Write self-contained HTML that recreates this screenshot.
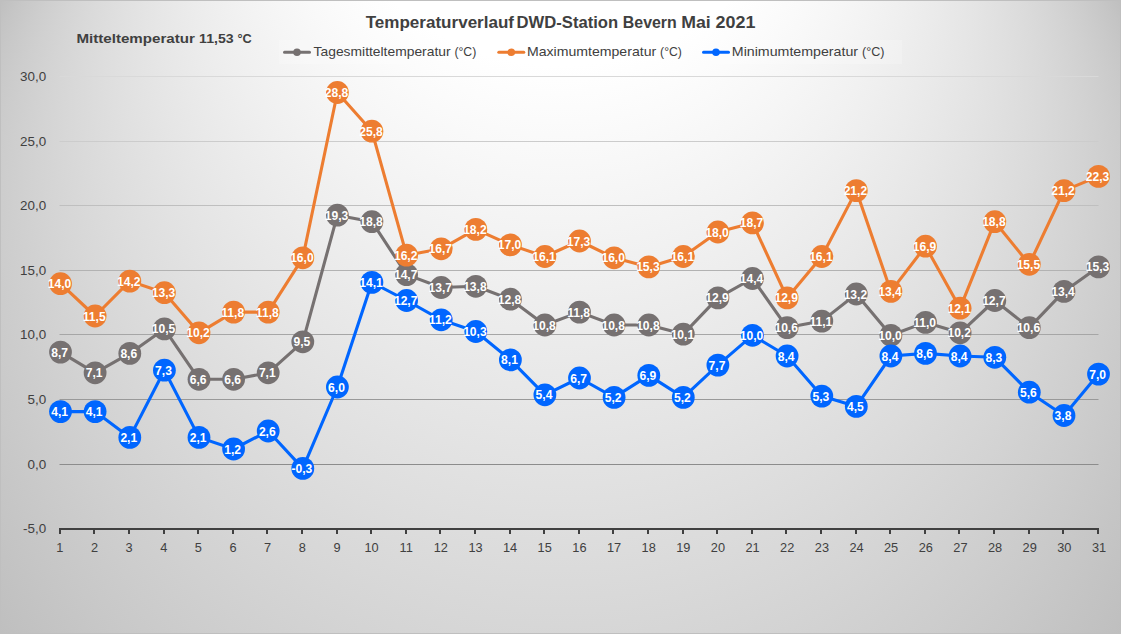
<!DOCTYPE html>
<html lang="de"><head><meta charset="utf-8"><title>Temperaturverlauf DWD-Station Bevern Mai 2021</title>
<style>html,body{margin:0;padding:0;background:#fff;}body{width:1121px;height:634px;overflow:hidden;}svg{display:block;}
text{font-family:"Liberation Sans",sans-serif;}
.ax{font-size:12.2px;fill:#404040;}
.dl{font-size:12.1px;font-weight:bold;fill:#fff;text-anchor:middle;}
.lg{font-size:13.3px;fill:#404040;}
</style></head><body>
<svg width="1121" height="634" viewBox="0 0 1121 634">
<defs>
<linearGradient id="w0" gradientUnits="userSpaceOnUse" x1="560.50" y1="-507.20" x2="399.20" y2="-612.45"><stop offset="0" stop-color="#fff"/><stop offset="0.39" stop-color="#fff"/><stop offset="1" stop-color="#bfbfbf"/></linearGradient>
<linearGradient id="w1" gradientUnits="userSpaceOnUse" x1="560.50" y1="-507.20" x2="325.61" y2="-628.74"><stop offset="0" stop-color="#fff"/><stop offset="0.39" stop-color="#fff"/><stop offset="1" stop-color="#bfbfbf"/></linearGradient>
<linearGradient id="w2" gradientUnits="userSpaceOnUse" x1="560.50" y1="-507.20" x2="254.07" y2="-632.64"><stop offset="0" stop-color="#fff"/><stop offset="0.39" stop-color="#fff"/><stop offset="1" stop-color="#bfbfbf"/></linearGradient>
<linearGradient id="w3" gradientUnits="userSpaceOnUse" x1="560.50" y1="-507.20" x2="184.00" y2="-626.28"><stop offset="0" stop-color="#fff"/><stop offset="0.39" stop-color="#fff"/><stop offset="1" stop-color="#bfbfbf"/></linearGradient>
<linearGradient id="w4" gradientUnits="userSpaceOnUse" x1="560.50" y1="-507.20" x2="115.65" y2="-610.68"><stop offset="0" stop-color="#fff"/><stop offset="0.39" stop-color="#fff"/><stop offset="1" stop-color="#bfbfbf"/></linearGradient>
<linearGradient id="w5" gradientUnits="userSpaceOnUse" x1="560.50" y1="-507.20" x2="49.56" y2="-586.52"><stop offset="0" stop-color="#fff"/><stop offset="0.39" stop-color="#fff"/><stop offset="1" stop-color="#bfbfbf"/></linearGradient>
<linearGradient id="w6" gradientUnits="userSpaceOnUse" x1="560.50" y1="-507.20" x2="-13.66" y2="-554.34"><stop offset="0" stop-color="#fff"/><stop offset="0.39" stop-color="#fff"/><stop offset="1" stop-color="#bfbfbf"/></linearGradient>
<linearGradient id="w7" gradientUnits="userSpaceOnUse" x1="560.50" y1="-507.20" x2="-73.33" y2="-514.63"><stop offset="0" stop-color="#fff"/><stop offset="0.39" stop-color="#fff"/><stop offset="1" stop-color="#bfbfbf"/></linearGradient>
<linearGradient id="w8" gradientUnits="userSpaceOnUse" x1="560.50" y1="-507.20" x2="-128.82" y2="-467.93"><stop offset="0" stop-color="#fff"/><stop offset="0.39" stop-color="#fff"/><stop offset="1" stop-color="#bfbfbf"/></linearGradient>
<linearGradient id="w9" gradientUnits="userSpaceOnUse" x1="560.50" y1="-507.20" x2="-179.48" y2="-414.76"><stop offset="0" stop-color="#fff"/><stop offset="0.39" stop-color="#fff"/><stop offset="1" stop-color="#bfbfbf"/></linearGradient>
<linearGradient id="w10" gradientUnits="userSpaceOnUse" x1="560.50" y1="-507.20" x2="-224.73" y2="-355.72"><stop offset="0" stop-color="#fff"/><stop offset="0.39" stop-color="#fff"/><stop offset="1" stop-color="#bfbfbf"/></linearGradient>
<linearGradient id="w11" gradientUnits="userSpaceOnUse" x1="560.50" y1="-507.20" x2="-264.00" y2="-291.42"><stop offset="0" stop-color="#fff"/><stop offset="0.39" stop-color="#fff"/><stop offset="1" stop-color="#bfbfbf"/></linearGradient>
<linearGradient id="w12" gradientUnits="userSpaceOnUse" x1="560.50" y1="-507.20" x2="-296.81" y2="-222.53"><stop offset="0" stop-color="#fff"/><stop offset="0.39" stop-color="#fff"/><stop offset="1" stop-color="#bfbfbf"/></linearGradient>
<linearGradient id="w13" gradientUnits="userSpaceOnUse" x1="560.50" y1="-507.20" x2="-322.72" y2="-149.75"><stop offset="0" stop-color="#fff"/><stop offset="0.39" stop-color="#fff"/><stop offset="1" stop-color="#bfbfbf"/></linearGradient>
<linearGradient id="w14" gradientUnits="userSpaceOnUse" x1="560.50" y1="-507.20" x2="-341.37" y2="-73.84"><stop offset="0" stop-color="#fff"/><stop offset="0.39" stop-color="#fff"/><stop offset="1" stop-color="#bfbfbf"/></linearGradient>
<linearGradient id="w15" gradientUnits="userSpaceOnUse" x1="560.50" y1="-507.20" x2="-352.46" y2="4.45"><stop offset="0" stop-color="#fff"/><stop offset="0.39" stop-color="#fff"/><stop offset="1" stop-color="#bfbfbf"/></linearGradient>
<linearGradient id="w16" gradientUnits="userSpaceOnUse" x1="560.50" y1="-507.20" x2="-355.79" y2="84.32"><stop offset="0" stop-color="#fff"/><stop offset="0.39" stop-color="#fff"/><stop offset="1" stop-color="#bfbfbf"/></linearGradient>
<linearGradient id="w17" gradientUnits="userSpaceOnUse" x1="560.50" y1="-507.20" x2="-351.22" y2="164.97"><stop offset="0" stop-color="#fff"/><stop offset="0.39" stop-color="#fff"/><stop offset="1" stop-color="#bfbfbf"/></linearGradient>
<linearGradient id="w18" gradientUnits="userSpaceOnUse" x1="560.50" y1="-507.20" x2="-338.70" y2="245.56"><stop offset="0" stop-color="#fff"/><stop offset="0.39" stop-color="#fff"/><stop offset="1" stop-color="#bfbfbf"/></linearGradient>
<linearGradient id="w19" gradientUnits="userSpaceOnUse" x1="560.50" y1="-507.20" x2="-318.24" y2="325.29"><stop offset="0" stop-color="#fff"/><stop offset="0.39" stop-color="#fff"/><stop offset="1" stop-color="#bfbfbf"/></linearGradient>
<linearGradient id="w20" gradientUnits="userSpaceOnUse" x1="560.50" y1="-507.20" x2="-289.98" y2="403.35"><stop offset="0" stop-color="#fff"/><stop offset="0.39" stop-color="#fff"/><stop offset="1" stop-color="#bfbfbf"/></linearGradient>
<linearGradient id="w21" gradientUnits="userSpaceOnUse" x1="560.50" y1="-507.20" x2="-254.09" y2="478.95"><stop offset="0" stop-color="#fff"/><stop offset="0.39" stop-color="#fff"/><stop offset="1" stop-color="#bfbfbf"/></linearGradient>
<linearGradient id="w22" gradientUnits="userSpaceOnUse" x1="560.50" y1="-507.20" x2="-210.85" y2="551.31"><stop offset="0" stop-color="#fff"/><stop offset="0.39" stop-color="#fff"/><stop offset="1" stop-color="#bfbfbf"/></linearGradient>
<linearGradient id="w23" gradientUnits="userSpaceOnUse" x1="560.50" y1="-507.20" x2="-160.61" y2="619.69"><stop offset="0" stop-color="#fff"/><stop offset="0.39" stop-color="#fff"/><stop offset="1" stop-color="#bfbfbf"/></linearGradient>
<linearGradient id="w24" gradientUnits="userSpaceOnUse" x1="560.50" y1="-507.20" x2="-103.80" y2="683.40"><stop offset="0" stop-color="#fff"/><stop offset="0.39" stop-color="#fff"/><stop offset="1" stop-color="#bfbfbf"/></linearGradient>
<linearGradient id="w25" gradientUnits="userSpaceOnUse" x1="560.50" y1="-507.20" x2="-40.89" y2="741.80"><stop offset="0" stop-color="#fff"/><stop offset="0.39" stop-color="#fff"/><stop offset="1" stop-color="#bfbfbf"/></linearGradient>
<linearGradient id="w26" gradientUnits="userSpaceOnUse" x1="560.50" y1="-507.20" x2="27.54" y2="794.27"><stop offset="0" stop-color="#fff"/><stop offset="0.39" stop-color="#fff"/><stop offset="1" stop-color="#bfbfbf"/></linearGradient>
<linearGradient id="w27" gradientUnits="userSpaceOnUse" x1="560.50" y1="-507.20" x2="100.89" y2="840.29"><stop offset="0" stop-color="#fff"/><stop offset="0.39" stop-color="#fff"/><stop offset="1" stop-color="#bfbfbf"/></linearGradient>
<linearGradient id="w28" gradientUnits="userSpaceOnUse" x1="560.50" y1="-507.20" x2="178.49" y2="879.38"><stop offset="0" stop-color="#fff"/><stop offset="0.39" stop-color="#fff"/><stop offset="1" stop-color="#bfbfbf"/></linearGradient>
<linearGradient id="w29" gradientUnits="userSpaceOnUse" x1="560.50" y1="-507.20" x2="259.64" y2="911.15"><stop offset="0" stop-color="#fff"/><stop offset="0.39" stop-color="#fff"/><stop offset="1" stop-color="#bfbfbf"/></linearGradient>
<linearGradient id="w30" gradientUnits="userSpaceOnUse" x1="560.50" y1="-507.20" x2="343.58" y2="935.26"><stop offset="0" stop-color="#fff"/><stop offset="0.39" stop-color="#fff"/><stop offset="1" stop-color="#bfbfbf"/></linearGradient>
<linearGradient id="w31" gradientUnits="userSpaceOnUse" x1="560.50" y1="-507.20" x2="429.53" y2="951.48"><stop offset="0" stop-color="#fff"/><stop offset="0.39" stop-color="#fff"/><stop offset="1" stop-color="#bfbfbf"/></linearGradient>
<linearGradient id="w32" gradientUnits="userSpaceOnUse" x1="560.50" y1="-507.20" x2="516.71" y2="959.63"><stop offset="0" stop-color="#fff"/><stop offset="0.39" stop-color="#fff"/><stop offset="1" stop-color="#bfbfbf"/></linearGradient>
<linearGradient id="w33" gradientUnits="userSpaceOnUse" x1="560.50" y1="-507.20" x2="604.29" y2="959.63"><stop offset="0" stop-color="#fff"/><stop offset="0.39" stop-color="#fff"/><stop offset="1" stop-color="#bfbfbf"/></linearGradient>
<linearGradient id="w34" gradientUnits="userSpaceOnUse" x1="560.50" y1="-507.20" x2="691.47" y2="951.48"><stop offset="0" stop-color="#fff"/><stop offset="0.39" stop-color="#fff"/><stop offset="1" stop-color="#bfbfbf"/></linearGradient>
<linearGradient id="w35" gradientUnits="userSpaceOnUse" x1="560.50" y1="-507.20" x2="777.42" y2="935.26"><stop offset="0" stop-color="#fff"/><stop offset="0.39" stop-color="#fff"/><stop offset="1" stop-color="#bfbfbf"/></linearGradient>
<linearGradient id="w36" gradientUnits="userSpaceOnUse" x1="560.50" y1="-507.20" x2="861.36" y2="911.15"><stop offset="0" stop-color="#fff"/><stop offset="0.39" stop-color="#fff"/><stop offset="1" stop-color="#bfbfbf"/></linearGradient>
<linearGradient id="w37" gradientUnits="userSpaceOnUse" x1="560.50" y1="-507.20" x2="942.51" y2="879.38"><stop offset="0" stop-color="#fff"/><stop offset="0.39" stop-color="#fff"/><stop offset="1" stop-color="#bfbfbf"/></linearGradient>
<linearGradient id="w38" gradientUnits="userSpaceOnUse" x1="560.50" y1="-507.20" x2="1020.11" y2="840.29"><stop offset="0" stop-color="#fff"/><stop offset="0.39" stop-color="#fff"/><stop offset="1" stop-color="#bfbfbf"/></linearGradient>
<linearGradient id="w39" gradientUnits="userSpaceOnUse" x1="560.50" y1="-507.20" x2="1093.46" y2="794.27"><stop offset="0" stop-color="#fff"/><stop offset="0.39" stop-color="#fff"/><stop offset="1" stop-color="#bfbfbf"/></linearGradient>
<linearGradient id="w40" gradientUnits="userSpaceOnUse" x1="560.50" y1="-507.20" x2="1161.89" y2="741.80"><stop offset="0" stop-color="#fff"/><stop offset="0.39" stop-color="#fff"/><stop offset="1" stop-color="#bfbfbf"/></linearGradient>
<linearGradient id="w41" gradientUnits="userSpaceOnUse" x1="560.50" y1="-507.20" x2="1224.80" y2="683.40"><stop offset="0" stop-color="#fff"/><stop offset="0.39" stop-color="#fff"/><stop offset="1" stop-color="#bfbfbf"/></linearGradient>
<linearGradient id="w42" gradientUnits="userSpaceOnUse" x1="560.50" y1="-507.20" x2="1281.61" y2="619.69"><stop offset="0" stop-color="#fff"/><stop offset="0.39" stop-color="#fff"/><stop offset="1" stop-color="#bfbfbf"/></linearGradient>
<linearGradient id="w43" gradientUnits="userSpaceOnUse" x1="560.50" y1="-507.20" x2="1331.85" y2="551.31"><stop offset="0" stop-color="#fff"/><stop offset="0.39" stop-color="#fff"/><stop offset="1" stop-color="#bfbfbf"/></linearGradient>
<linearGradient id="w44" gradientUnits="userSpaceOnUse" x1="560.50" y1="-507.20" x2="1375.09" y2="478.95"><stop offset="0" stop-color="#fff"/><stop offset="0.39" stop-color="#fff"/><stop offset="1" stop-color="#bfbfbf"/></linearGradient>
<linearGradient id="w45" gradientUnits="userSpaceOnUse" x1="560.50" y1="-507.20" x2="1410.98" y2="403.35"><stop offset="0" stop-color="#fff"/><stop offset="0.39" stop-color="#fff"/><stop offset="1" stop-color="#bfbfbf"/></linearGradient>
<linearGradient id="w46" gradientUnits="userSpaceOnUse" x1="560.50" y1="-507.20" x2="1439.24" y2="325.29"><stop offset="0" stop-color="#fff"/><stop offset="0.39" stop-color="#fff"/><stop offset="1" stop-color="#bfbfbf"/></linearGradient>
<linearGradient id="w47" gradientUnits="userSpaceOnUse" x1="560.50" y1="-507.20" x2="1459.70" y2="245.56"><stop offset="0" stop-color="#fff"/><stop offset="0.39" stop-color="#fff"/><stop offset="1" stop-color="#bfbfbf"/></linearGradient>
<linearGradient id="w48" gradientUnits="userSpaceOnUse" x1="560.50" y1="-507.20" x2="1472.22" y2="164.97"><stop offset="0" stop-color="#fff"/><stop offset="0.39" stop-color="#fff"/><stop offset="1" stop-color="#bfbfbf"/></linearGradient>
<linearGradient id="w49" gradientUnits="userSpaceOnUse" x1="560.50" y1="-507.20" x2="1476.79" y2="84.32"><stop offset="0" stop-color="#fff"/><stop offset="0.39" stop-color="#fff"/><stop offset="1" stop-color="#bfbfbf"/></linearGradient>
<linearGradient id="w50" gradientUnits="userSpaceOnUse" x1="560.50" y1="-507.20" x2="1473.46" y2="4.45"><stop offset="0" stop-color="#fff"/><stop offset="0.39" stop-color="#fff"/><stop offset="1" stop-color="#bfbfbf"/></linearGradient>
<linearGradient id="w51" gradientUnits="userSpaceOnUse" x1="560.50" y1="-507.20" x2="1462.37" y2="-73.84"><stop offset="0" stop-color="#fff"/><stop offset="0.39" stop-color="#fff"/><stop offset="1" stop-color="#bfbfbf"/></linearGradient>
<linearGradient id="w52" gradientUnits="userSpaceOnUse" x1="560.50" y1="-507.20" x2="1443.72" y2="-149.75"><stop offset="0" stop-color="#fff"/><stop offset="0.39" stop-color="#fff"/><stop offset="1" stop-color="#bfbfbf"/></linearGradient>
<linearGradient id="w53" gradientUnits="userSpaceOnUse" x1="560.50" y1="-507.20" x2="1417.81" y2="-222.53"><stop offset="0" stop-color="#fff"/><stop offset="0.39" stop-color="#fff"/><stop offset="1" stop-color="#bfbfbf"/></linearGradient>
<linearGradient id="w54" gradientUnits="userSpaceOnUse" x1="560.50" y1="-507.20" x2="1385.00" y2="-291.42"><stop offset="0" stop-color="#fff"/><stop offset="0.39" stop-color="#fff"/><stop offset="1" stop-color="#bfbfbf"/></linearGradient>
<linearGradient id="w55" gradientUnits="userSpaceOnUse" x1="560.50" y1="-507.20" x2="1345.73" y2="-355.72"><stop offset="0" stop-color="#fff"/><stop offset="0.39" stop-color="#fff"/><stop offset="1" stop-color="#bfbfbf"/></linearGradient>
<linearGradient id="w56" gradientUnits="userSpaceOnUse" x1="560.50" y1="-507.20" x2="1300.48" y2="-414.76"><stop offset="0" stop-color="#fff"/><stop offset="0.39" stop-color="#fff"/><stop offset="1" stop-color="#bfbfbf"/></linearGradient>
<linearGradient id="w57" gradientUnits="userSpaceOnUse" x1="560.50" y1="-507.20" x2="1249.82" y2="-467.93"><stop offset="0" stop-color="#fff"/><stop offset="0.39" stop-color="#fff"/><stop offset="1" stop-color="#bfbfbf"/></linearGradient>
<linearGradient id="w58" gradientUnits="userSpaceOnUse" x1="560.50" y1="-507.20" x2="1194.33" y2="-514.63"><stop offset="0" stop-color="#fff"/><stop offset="0.39" stop-color="#fff"/><stop offset="1" stop-color="#bfbfbf"/></linearGradient>
<linearGradient id="w59" gradientUnits="userSpaceOnUse" x1="560.50" y1="-507.20" x2="1134.66" y2="-554.34"><stop offset="0" stop-color="#fff"/><stop offset="0.39" stop-color="#fff"/><stop offset="1" stop-color="#bfbfbf"/></linearGradient>
<linearGradient id="w60" gradientUnits="userSpaceOnUse" x1="560.50" y1="-507.20" x2="1071.44" y2="-586.52"><stop offset="0" stop-color="#fff"/><stop offset="0.39" stop-color="#fff"/><stop offset="1" stop-color="#bfbfbf"/></linearGradient>
<linearGradient id="w61" gradientUnits="userSpaceOnUse" x1="560.50" y1="-507.20" x2="1005.35" y2="-610.68"><stop offset="0" stop-color="#fff"/><stop offset="0.39" stop-color="#fff"/><stop offset="1" stop-color="#bfbfbf"/></linearGradient>
<linearGradient id="w62" gradientUnits="userSpaceOnUse" x1="560.50" y1="-507.20" x2="937.00" y2="-626.28"><stop offset="0" stop-color="#fff"/><stop offset="0.39" stop-color="#fff"/><stop offset="1" stop-color="#bfbfbf"/></linearGradient>
<linearGradient id="w63" gradientUnits="userSpaceOnUse" x1="560.50" y1="-507.20" x2="866.93" y2="-632.64"><stop offset="0" stop-color="#fff"/><stop offset="0.39" stop-color="#fff"/><stop offset="1" stop-color="#bfbfbf"/></linearGradient>
<linearGradient id="w64" gradientUnits="userSpaceOnUse" x1="560.50" y1="-507.20" x2="795.39" y2="-628.74"><stop offset="0" stop-color="#fff"/><stop offset="0.39" stop-color="#fff"/><stop offset="1" stop-color="#bfbfbf"/></linearGradient>
<linearGradient id="w65" gradientUnits="userSpaceOnUse" x1="560.50" y1="-507.20" x2="721.80" y2="-612.45"><stop offset="0" stop-color="#fff"/><stop offset="0.39" stop-color="#fff"/><stop offset="1" stop-color="#bfbfbf"/></linearGradient>
<clipPath id="cp"><rect x="0" y="0" width="1121" height="634"/></clipPath>
</defs>
<rect x="0" y="0" width="1121" height="634" fill="#d8d8d8"/>
<g clip-path="url(#cp)">
<polygon points="560.5,-507.2 -270.6,202.7 -333.6,299.5" fill="url(#w0)"/>
<polygon points="560.5,-507.2 -329.5,292.5 -377.1,384.4" fill="url(#w1)"/>
<polygon points="560.5,-507.2 -374.1,377.8 -409.8,465.2" fill="url(#w2)"/>
<polygon points="560.5,-507.2 -407.5,458.8 -434.3,543.3" fill="url(#w3)"/>
<polygon points="560.5,-507.2 -432.6,537.1 -451.7,619.3" fill="url(#w4)"/>
<polygon points="560.5,-507.2 -450.5,613.3 -463.0,693.8" fill="url(#w5)"/>
<polygon points="560.5,-507.2 -462.3,687.9 -468.8,766.6" fill="url(#w6)"/>
<polygon points="560.5,-507.2 -468.5,760.8 -469.5,838.0" fill="url(#w7)"/>
<polygon points="560.5,-507.2 -469.6,832.3 -465.3,907.8" fill="url(#w8)"/>
<polygon points="560.5,-507.2 -465.8,902.3 -456.6,976.0" fill="url(#w9)"/>
<polygon points="560.5,-507.2 -457.4,970.6 -443.6,1042.5" fill="url(#w10)"/>
<polygon points="560.5,-507.2 -444.8,1037.2 -426.5,1107.2" fill="url(#w11)"/>
<polygon points="560.5,-507.2 -428.0,1102.1 -405.4,1169.9" fill="url(#w12)"/>
<polygon points="560.5,-507.2 -407.3,1165.0 -380.7,1230.6" fill="url(#w13)"/>
<polygon points="560.5,-507.2 -382.8,1225.8 -352.4,1289.1" fill="url(#w14)"/>
<polygon points="560.5,-507.2 -354.8,1284.5 -320.7,1345.3" fill="url(#w15)"/>
<polygon points="560.5,-507.2 -323.4,1340.9 -285.8,1399.1" fill="url(#w16)"/>
<polygon points="560.5,-507.2 -288.7,1394.9 -247.9,1450.3" fill="url(#w17)"/>
<polygon points="560.5,-507.2 -251.0,1446.3 -207.1,1498.8" fill="url(#w18)"/>
<polygon points="560.5,-507.2 -210.5,1495.0 -163.6,1544.4" fill="url(#w19)"/>
<polygon points="560.5,-507.2 -167.2,1540.9 -117.6,1587.2" fill="url(#w20)"/>
<polygon points="560.5,-507.2 -121.4,1583.9 -69.2,1627.0" fill="url(#w21)"/>
<polygon points="560.5,-507.2 -73.2,1623.9 -18.7,1663.6" fill="url(#w22)"/>
<polygon points="560.5,-507.2 -22.8,1660.8 33.8,1697.0" fill="url(#w23)"/>
<polygon points="560.5,-507.2 29.5,1694.4 88.0,1727.1" fill="url(#w24)"/>
<polygon points="560.5,-507.2 83.6,1724.8 143.9,1753.8" fill="url(#w25)"/>
<polygon points="560.5,-507.2 139.4,1751.8 201.2,1777.1" fill="url(#w26)"/>
<polygon points="560.5,-507.2 196.5,1775.4 259.6,1796.9" fill="url(#w27)"/>
<polygon points="560.5,-507.2 254.9,1795.4 319.1,1813.1" fill="url(#w28)"/>
<polygon points="560.5,-507.2 314.3,1812.0 379.3,1825.8" fill="url(#w29)"/>
<polygon points="560.5,-507.2 374.5,1824.9 440.2,1834.8" fill="url(#w30)"/>
<polygon points="560.5,-507.2 435.3,1834.2 501.5,1840.1" fill="url(#w31)"/>
<polygon points="560.5,-507.2 496.6,1839.8 563.0,1841.8" fill="url(#w32)"/>
<polygon points="560.5,-507.2 558.0,1841.8 624.4,1839.8" fill="url(#w33)"/>
<polygon points="560.5,-507.2 619.5,1840.1 685.7,1834.2" fill="url(#w34)"/>
<polygon points="560.5,-507.2 680.8,1834.8 746.5,1824.9" fill="url(#w35)"/>
<polygon points="560.5,-507.2 741.7,1825.8 806.7,1812.0" fill="url(#w36)"/>
<polygon points="560.5,-507.2 801.9,1813.1 866.1,1795.4" fill="url(#w37)"/>
<polygon points="560.5,-507.2 861.4,1796.9 924.5,1775.4" fill="url(#w38)"/>
<polygon points="560.5,-507.2 919.8,1777.1 981.6,1751.8" fill="url(#w39)"/>
<polygon points="560.5,-507.2 977.1,1753.8 1037.4,1724.8" fill="url(#w40)"/>
<polygon points="560.5,-507.2 1033.0,1727.1 1091.5,1694.4" fill="url(#w41)"/>
<polygon points="560.5,-507.2 1087.2,1697.0 1143.8,1660.8" fill="url(#w42)"/>
<polygon points="560.5,-507.2 1139.7,1663.6 1194.2,1623.9" fill="url(#w43)"/>
<polygon points="560.5,-507.2 1190.2,1627.0 1242.4,1583.9" fill="url(#w44)"/>
<polygon points="560.5,-507.2 1238.6,1587.2 1288.2,1540.9" fill="url(#w45)"/>
<polygon points="560.5,-507.2 1284.6,1544.4 1331.5,1495.0" fill="url(#w46)"/>
<polygon points="560.5,-507.2 1328.1,1498.8 1372.0,1446.3" fill="url(#w47)"/>
<polygon points="560.5,-507.2 1368.9,1450.3 1409.7,1394.9" fill="url(#w48)"/>
<polygon points="560.5,-507.2 1406.8,1399.1 1444.4,1340.9" fill="url(#w49)"/>
<polygon points="560.5,-507.2 1441.7,1345.3 1475.8,1284.5" fill="url(#w50)"/>
<polygon points="560.5,-507.2 1473.4,1289.1 1503.8,1225.8" fill="url(#w51)"/>
<polygon points="560.5,-507.2 1501.7,1230.6 1528.3,1165.0" fill="url(#w52)"/>
<polygon points="560.5,-507.2 1526.4,1169.9 1549.0,1102.1" fill="url(#w53)"/>
<polygon points="560.5,-507.2 1547.5,1107.2 1565.8,1037.2" fill="url(#w54)"/>
<polygon points="560.5,-507.2 1564.6,1042.5 1578.4,970.6" fill="url(#w55)"/>
<polygon points="560.5,-507.2 1577.6,976.0 1586.8,902.3" fill="url(#w56)"/>
<polygon points="560.5,-507.2 1586.3,907.8 1590.6,832.3" fill="url(#w57)"/>
<polygon points="560.5,-507.2 1590.5,838.0 1589.5,760.8" fill="url(#w58)"/>
<polygon points="560.5,-507.2 1589.8,766.6 1583.3,687.9" fill="url(#w59)"/>
<polygon points="560.5,-507.2 1584.0,693.8 1571.5,613.3" fill="url(#w60)"/>
<polygon points="560.5,-507.2 1572.7,619.3 1553.6,537.1" fill="url(#w61)"/>
<polygon points="560.5,-507.2 1555.3,543.3 1528.5,458.8" fill="url(#w62)"/>
<polygon points="560.5,-507.2 1530.8,465.2 1495.1,377.8" fill="url(#w63)"/>
<polygon points="560.5,-507.2 1498.1,384.4 1450.5,292.5" fill="url(#w64)"/>
<polygon points="560.5,-507.2 1454.6,299.5 1391.6,202.7" fill="url(#w65)"/>
</g>
<rect x="0.5" y="0.5" width="1120" height="633" fill="none" stroke="#bfbfbf" stroke-width="1"/>
<rect x="279" y="40" width="623" height="24" fill="#ffffff" fill-opacity="0.22"/>
<line x1="59.5" y1="76.5" x2="1098.5" y2="76.5" stroke="rgb(217,217,217)" stroke-width="1"/>
<line x1="59.5" y1="141.5" x2="1098.5" y2="141.5" stroke="rgb(204,204,204)" stroke-width="1"/>
<line x1="59.5" y1="205.5" x2="1098.5" y2="205.5" stroke="rgb(191,191,191)" stroke-width="1"/>
<line x1="59.5" y1="270.5" x2="1098.5" y2="270.5" stroke="rgb(178,178,178)" stroke-width="1"/>
<line x1="59.5" y1="334.5" x2="1098.5" y2="334.5" stroke="rgb(166,166,166)" stroke-width="1"/>
<line x1="59.5" y1="399.5" x2="1098.5" y2="399.5" stroke="rgb(153,153,153)" stroke-width="1"/>
<line x1="59.5" y1="464.5" x2="1098.5" y2="464.5" stroke="rgb(140,140,140)" stroke-width="1"/>
<line x1="59" y1="529" x2="1099" y2="529" stroke="#404040" stroke-width="2"/>
<line x1="60" y1="528" x2="60" y2="534" stroke="#404040" stroke-width="2"/>
<line x1="94" y1="528" x2="94" y2="534" stroke="#404040" stroke-width="2"/>
<line x1="129" y1="528" x2="129" y2="534" stroke="#404040" stroke-width="2"/>
<line x1="164" y1="528" x2="164" y2="534" stroke="#404040" stroke-width="2"/>
<line x1="198" y1="528" x2="198" y2="534" stroke="#404040" stroke-width="2"/>
<line x1="233" y1="528" x2="233" y2="534" stroke="#404040" stroke-width="2"/>
<line x1="267" y1="528" x2="267" y2="534" stroke="#404040" stroke-width="2"/>
<line x1="302" y1="528" x2="302" y2="534" stroke="#404040" stroke-width="2"/>
<line x1="337" y1="528" x2="337" y2="534" stroke="#404040" stroke-width="2"/>
<line x1="371" y1="528" x2="371" y2="534" stroke="#404040" stroke-width="2"/>
<line x1="406" y1="528" x2="406" y2="534" stroke="#404040" stroke-width="2"/>
<line x1="440" y1="528" x2="440" y2="534" stroke="#404040" stroke-width="2"/>
<line x1="475" y1="528" x2="475" y2="534" stroke="#404040" stroke-width="2"/>
<line x1="510" y1="528" x2="510" y2="534" stroke="#404040" stroke-width="2"/>
<line x1="544" y1="528" x2="544" y2="534" stroke="#404040" stroke-width="2"/>
<line x1="579" y1="528" x2="579" y2="534" stroke="#404040" stroke-width="2"/>
<line x1="613" y1="528" x2="613" y2="534" stroke="#404040" stroke-width="2"/>
<line x1="648" y1="528" x2="648" y2="534" stroke="#404040" stroke-width="2"/>
<line x1="683" y1="528" x2="683" y2="534" stroke="#404040" stroke-width="2"/>
<line x1="717" y1="528" x2="717" y2="534" stroke="#404040" stroke-width="2"/>
<line x1="752" y1="528" x2="752" y2="534" stroke="#404040" stroke-width="2"/>
<line x1="786" y1="528" x2="786" y2="534" stroke="#404040" stroke-width="2"/>
<line x1="821" y1="528" x2="821" y2="534" stroke="#404040" stroke-width="2"/>
<line x1="856" y1="528" x2="856" y2="534" stroke="#404040" stroke-width="2"/>
<line x1="890" y1="528" x2="890" y2="534" stroke="#404040" stroke-width="2"/>
<line x1="925" y1="528" x2="925" y2="534" stroke="#404040" stroke-width="2"/>
<line x1="959" y1="528" x2="959" y2="534" stroke="#404040" stroke-width="2"/>
<line x1="994" y1="528" x2="994" y2="534" stroke="#404040" stroke-width="2"/>
<line x1="1029" y1="528" x2="1029" y2="534" stroke="#404040" stroke-width="2"/>
<line x1="1063" y1="528" x2="1063" y2="534" stroke="#404040" stroke-width="2"/>
<line x1="1098" y1="528" x2="1098" y2="534" stroke="#404040" stroke-width="2"/>
<text class="ax" x="56.2" y="552" textLength="7.1" lengthAdjust="spacingAndGlyphs">1</text>
<text class="ax" x="90.9" y="552" textLength="7.1" lengthAdjust="spacingAndGlyphs">2</text>
<text class="ax" x="125.5" y="552" textLength="7.1" lengthAdjust="spacingAndGlyphs">3</text>
<text class="ax" x="160.2" y="552" textLength="7.1" lengthAdjust="spacingAndGlyphs">4</text>
<text class="ax" x="194.8" y="552" textLength="7.1" lengthAdjust="spacingAndGlyphs">5</text>
<text class="ax" x="229.4" y="552" textLength="7.1" lengthAdjust="spacingAndGlyphs">6</text>
<text class="ax" x="264.1" y="552" textLength="7.1" lengthAdjust="spacingAndGlyphs">7</text>
<text class="ax" x="298.7" y="552" textLength="7.1" lengthAdjust="spacingAndGlyphs">8</text>
<text class="ax" x="333.4" y="552" textLength="7.1" lengthAdjust="spacingAndGlyphs">9</text>
<text class="ax" x="364.4" y="552" textLength="14.2" lengthAdjust="spacingAndGlyphs">10</text>
<text class="ax" x="399.6" y="552" textLength="13.3" lengthAdjust="spacingAndGlyphs">11</text>
<text class="ax" x="433.7" y="552" textLength="14.2" lengthAdjust="spacingAndGlyphs">12</text>
<text class="ax" x="468.4" y="552" textLength="14.2" lengthAdjust="spacingAndGlyphs">13</text>
<text class="ax" x="503.0" y="552" textLength="14.2" lengthAdjust="spacingAndGlyphs">14</text>
<text class="ax" x="537.6" y="552" textLength="14.2" lengthAdjust="spacingAndGlyphs">15</text>
<text class="ax" x="572.3" y="552" textLength="14.2" lengthAdjust="spacingAndGlyphs">16</text>
<text class="ax" x="606.9" y="552" textLength="14.2" lengthAdjust="spacingAndGlyphs">17</text>
<text class="ax" x="641.6" y="552" textLength="14.2" lengthAdjust="spacingAndGlyphs">18</text>
<text class="ax" x="676.2" y="552" textLength="14.2" lengthAdjust="spacingAndGlyphs">19</text>
<text class="ax" x="710.8" y="552" textLength="14.2" lengthAdjust="spacingAndGlyphs">20</text>
<text class="ax" x="745.5" y="552" textLength="14.2" lengthAdjust="spacingAndGlyphs">21</text>
<text class="ax" x="780.1" y="552" textLength="14.2" lengthAdjust="spacingAndGlyphs">22</text>
<text class="ax" x="814.8" y="552" textLength="14.2" lengthAdjust="spacingAndGlyphs">23</text>
<text class="ax" x="849.4" y="552" textLength="14.2" lengthAdjust="spacingAndGlyphs">24</text>
<text class="ax" x="884.0" y="552" textLength="14.2" lengthAdjust="spacingAndGlyphs">25</text>
<text class="ax" x="918.7" y="552" textLength="14.2" lengthAdjust="spacingAndGlyphs">26</text>
<text class="ax" x="953.3" y="552" textLength="14.2" lengthAdjust="spacingAndGlyphs">27</text>
<text class="ax" x="988.0" y="552" textLength="14.2" lengthAdjust="spacingAndGlyphs">28</text>
<text class="ax" x="1022.6" y="552" textLength="14.2" lengthAdjust="spacingAndGlyphs">29</text>
<text class="ax" x="1057.2" y="552" textLength="14.2" lengthAdjust="spacingAndGlyphs">30</text>
<text class="ax" x="1091.9" y="552" textLength="14.2" lengthAdjust="spacingAndGlyphs">31</text>
<text class="ax" x="20.1" y="81.1" textLength="26.1" lengthAdjust="spacingAndGlyphs">30,0</text>
<text class="ax" x="20.1" y="146.1" textLength="26.1" lengthAdjust="spacingAndGlyphs">25,0</text>
<text class="ax" x="20.1" y="210.1" textLength="26.1" lengthAdjust="spacingAndGlyphs">20,0</text>
<text class="ax" x="20.1" y="275.1" textLength="26.1" lengthAdjust="spacingAndGlyphs">15,0</text>
<text class="ax" x="20.1" y="339.1" textLength="26.1" lengthAdjust="spacingAndGlyphs">10,0</text>
<text class="ax" x="27.5" y="404.1" textLength="18.7" lengthAdjust="spacingAndGlyphs">5,0</text>
<text class="ax" x="27.5" y="469.1" textLength="18.7" lengthAdjust="spacingAndGlyphs">0,0</text>
<text class="ax" x="23.1" y="533.1" textLength="23.1" lengthAdjust="spacingAndGlyphs">-5,0</text>
<polyline points="60.5,352.1 95.1,372.8 129.8,353.4 164.4,328.9 199.0,379.3 233.6,379.3 268.2,372.8 302.8,341.8 337.4,215.2 371.9,221.7 406.6,274.6 441.2,287.5 475.8,286.3 510.4,299.2 544.9,325.0 579.5,312.1 614.1,325.0 648.8,325.0 683.3,334.1 717.9,297.9 752.5,278.5 787.1,327.6 821.8,321.1 856.3,294.0 890.9,335.3 925.5,322.4 960.1,332.8 994.8,300.5 1029.3,327.6 1064.0,291.4 1098.5,266.9" fill="none" stroke="#767171" stroke-width="3.1" stroke-linejoin="round" stroke-linecap="round"/>
<circle cx="60.5" cy="352.1" r="11.4" fill="#767171"/>
<circle cx="95.1" cy="372.8" r="11.4" fill="#767171"/>
<circle cx="129.8" cy="353.4" r="11.4" fill="#767171"/>
<circle cx="164.4" cy="328.9" r="11.4" fill="#767171"/>
<circle cx="199.0" cy="379.3" r="11.4" fill="#767171"/>
<circle cx="233.6" cy="379.3" r="11.4" fill="#767171"/>
<circle cx="268.2" cy="372.8" r="11.4" fill="#767171"/>
<circle cx="302.8" cy="341.8" r="11.4" fill="#767171"/>
<circle cx="337.4" cy="215.2" r="11.4" fill="#767171"/>
<circle cx="371.9" cy="221.7" r="11.4" fill="#767171"/>
<circle cx="406.6" cy="274.6" r="11.4" fill="#767171"/>
<circle cx="441.2" cy="287.5" r="11.4" fill="#767171"/>
<circle cx="475.8" cy="286.3" r="11.4" fill="#767171"/>
<circle cx="510.4" cy="299.2" r="11.4" fill="#767171"/>
<circle cx="544.9" cy="325.0" r="11.4" fill="#767171"/>
<circle cx="579.5" cy="312.1" r="11.4" fill="#767171"/>
<circle cx="614.1" cy="325.0" r="11.4" fill="#767171"/>
<circle cx="648.8" cy="325.0" r="11.4" fill="#767171"/>
<circle cx="683.3" cy="334.1" r="11.4" fill="#767171"/>
<circle cx="717.9" cy="297.9" r="11.4" fill="#767171"/>
<circle cx="752.5" cy="278.5" r="11.4" fill="#767171"/>
<circle cx="787.1" cy="327.6" r="11.4" fill="#767171"/>
<circle cx="821.8" cy="321.1" r="11.4" fill="#767171"/>
<circle cx="856.3" cy="294.0" r="11.4" fill="#767171"/>
<circle cx="890.9" cy="335.3" r="11.4" fill="#767171"/>
<circle cx="925.5" cy="322.4" r="11.4" fill="#767171"/>
<circle cx="960.1" cy="332.8" r="11.4" fill="#767171"/>
<circle cx="994.8" cy="300.5" r="11.4" fill="#767171"/>
<circle cx="1029.3" cy="327.6" r="11.4" fill="#767171"/>
<circle cx="1064.0" cy="291.4" r="11.4" fill="#767171"/>
<circle cx="1098.5" cy="266.9" r="11.4" fill="#767171"/>
<polyline points="60.5,283.7 95.1,316.0 129.8,281.1 164.4,292.7 199.0,332.8 233.6,312.1 268.2,312.1 302.8,257.8 337.4,92.5 371.9,131.2 406.6,255.2 441.2,248.8 475.8,229.4 510.4,244.9 544.9,256.5 579.5,241.0 614.1,257.8 648.8,266.9 683.3,256.5 717.9,232.0 752.5,222.9 787.1,297.9 821.8,256.5 856.3,190.6 890.9,291.4 925.5,246.2 960.1,308.2 994.8,221.7 1029.3,264.3 1064.0,190.6 1098.5,176.4" fill="none" stroke="#ED7D31" stroke-width="3.1" stroke-linejoin="round" stroke-linecap="round"/>
<circle cx="60.5" cy="283.7" r="11.4" fill="#ED7D31"/>
<circle cx="95.1" cy="316.0" r="11.4" fill="#ED7D31"/>
<circle cx="129.8" cy="281.1" r="11.4" fill="#ED7D31"/>
<circle cx="164.4" cy="292.7" r="11.4" fill="#ED7D31"/>
<circle cx="199.0" cy="332.8" r="11.4" fill="#ED7D31"/>
<circle cx="233.6" cy="312.1" r="11.4" fill="#ED7D31"/>
<circle cx="268.2" cy="312.1" r="11.4" fill="#ED7D31"/>
<circle cx="302.8" cy="257.8" r="11.4" fill="#ED7D31"/>
<circle cx="337.4" cy="92.5" r="11.4" fill="#ED7D31"/>
<circle cx="371.9" cy="131.2" r="11.4" fill="#ED7D31"/>
<circle cx="406.6" cy="255.2" r="11.4" fill="#ED7D31"/>
<circle cx="441.2" cy="248.8" r="11.4" fill="#ED7D31"/>
<circle cx="475.8" cy="229.4" r="11.4" fill="#ED7D31"/>
<circle cx="510.4" cy="244.9" r="11.4" fill="#ED7D31"/>
<circle cx="544.9" cy="256.5" r="11.4" fill="#ED7D31"/>
<circle cx="579.5" cy="241.0" r="11.4" fill="#ED7D31"/>
<circle cx="614.1" cy="257.8" r="11.4" fill="#ED7D31"/>
<circle cx="648.8" cy="266.9" r="11.4" fill="#ED7D31"/>
<circle cx="683.3" cy="256.5" r="11.4" fill="#ED7D31"/>
<circle cx="717.9" cy="232.0" r="11.4" fill="#ED7D31"/>
<circle cx="752.5" cy="222.9" r="11.4" fill="#ED7D31"/>
<circle cx="787.1" cy="297.9" r="11.4" fill="#ED7D31"/>
<circle cx="821.8" cy="256.5" r="11.4" fill="#ED7D31"/>
<circle cx="856.3" cy="190.6" r="11.4" fill="#ED7D31"/>
<circle cx="890.9" cy="291.4" r="11.4" fill="#ED7D31"/>
<circle cx="925.5" cy="246.2" r="11.4" fill="#ED7D31"/>
<circle cx="960.1" cy="308.2" r="11.4" fill="#ED7D31"/>
<circle cx="994.8" cy="221.7" r="11.4" fill="#ED7D31"/>
<circle cx="1029.3" cy="264.3" r="11.4" fill="#ED7D31"/>
<circle cx="1064.0" cy="190.6" r="11.4" fill="#ED7D31"/>
<circle cx="1098.5" cy="176.4" r="11.4" fill="#ED7D31"/>
<polyline points="60.5,411.6 95.1,411.6 129.8,437.4 164.4,370.2 199.0,437.4 233.6,449.0 268.2,431.0 302.8,468.4 337.4,387.0 371.9,282.4 406.6,300.5 441.2,319.8 475.8,331.5 510.4,359.9 544.9,394.8 579.5,378.0 614.1,397.4 648.8,375.4 683.3,397.4 717.9,365.1 752.5,335.3 787.1,356.0 821.8,396.1 856.3,406.4 890.9,356.0 925.5,353.4 960.1,356.0 994.8,357.3 1029.3,392.2 1064.0,415.5 1098.5,374.1" fill="none" stroke="#0066FF" stroke-width="3.1" stroke-linejoin="round" stroke-linecap="round"/>
<circle cx="60.5" cy="411.6" r="11.4" fill="#0066FF"/>
<circle cx="95.1" cy="411.6" r="11.4" fill="#0066FF"/>
<circle cx="129.8" cy="437.4" r="11.4" fill="#0066FF"/>
<circle cx="164.4" cy="370.2" r="11.4" fill="#0066FF"/>
<circle cx="199.0" cy="437.4" r="11.4" fill="#0066FF"/>
<circle cx="233.6" cy="449.0" r="11.4" fill="#0066FF"/>
<circle cx="268.2" cy="431.0" r="11.4" fill="#0066FF"/>
<circle cx="302.8" cy="468.4" r="11.4" fill="#0066FF"/>
<circle cx="337.4" cy="387.0" r="11.4" fill="#0066FF"/>
<circle cx="371.9" cy="282.4" r="11.4" fill="#0066FF"/>
<circle cx="406.6" cy="300.5" r="11.4" fill="#0066FF"/>
<circle cx="441.2" cy="319.8" r="11.4" fill="#0066FF"/>
<circle cx="475.8" cy="331.5" r="11.4" fill="#0066FF"/>
<circle cx="510.4" cy="359.9" r="11.4" fill="#0066FF"/>
<circle cx="544.9" cy="394.8" r="11.4" fill="#0066FF"/>
<circle cx="579.5" cy="378.0" r="11.4" fill="#0066FF"/>
<circle cx="614.1" cy="397.4" r="11.4" fill="#0066FF"/>
<circle cx="648.8" cy="375.4" r="11.4" fill="#0066FF"/>
<circle cx="683.3" cy="397.4" r="11.4" fill="#0066FF"/>
<circle cx="717.9" cy="365.1" r="11.4" fill="#0066FF"/>
<circle cx="752.5" cy="335.3" r="11.4" fill="#0066FF"/>
<circle cx="787.1" cy="356.0" r="11.4" fill="#0066FF"/>
<circle cx="821.8" cy="396.1" r="11.4" fill="#0066FF"/>
<circle cx="856.3" cy="406.4" r="11.4" fill="#0066FF"/>
<circle cx="890.9" cy="356.0" r="11.4" fill="#0066FF"/>
<circle cx="925.5" cy="353.4" r="11.4" fill="#0066FF"/>
<circle cx="960.1" cy="356.0" r="11.4" fill="#0066FF"/>
<circle cx="994.8" cy="357.3" r="11.4" fill="#0066FF"/>
<circle cx="1029.3" cy="392.2" r="11.4" fill="#0066FF"/>
<circle cx="1064.0" cy="415.5" r="11.4" fill="#0066FF"/>
<circle cx="1098.5" cy="374.1" r="11.4" fill="#0066FF"/>
<text class="dl" x="59.6" y="356.6">8,7</text>
<text class="dl" x="94.2" y="377.3">7,1</text>
<text class="dl" x="128.8" y="357.9">8,6</text>
<text class="dl" x="163.5" y="333.4">10,5</text>
<text class="dl" x="198.1" y="383.8">6,6</text>
<text class="dl" x="232.7" y="383.8">6,6</text>
<text class="dl" x="267.3" y="377.3">7,1</text>
<text class="dl" x="301.9" y="346.3">9,5</text>
<text class="dl" x="336.5" y="219.7">19,3</text>
<text class="dl" x="371.1" y="226.2">18,8</text>
<text class="dl" x="405.7" y="279.1">14,7</text>
<text class="dl" x="440.3" y="292.0">13,7</text>
<text class="dl" x="474.9" y="290.8">13,8</text>
<text class="dl" x="509.5" y="303.7">12,8</text>
<text class="dl" x="544.0" y="329.5">10,8</text>
<text class="dl" x="578.6" y="316.6">11,8</text>
<text class="dl" x="613.2" y="329.5">10,8</text>
<text class="dl" x="647.9" y="329.5">10,8</text>
<text class="dl" x="682.4" y="338.6">10,1</text>
<text class="dl" x="717.0" y="302.4">12,9</text>
<text class="dl" x="751.6" y="283.0">14,4</text>
<text class="dl" x="786.2" y="332.1">10,6</text>
<text class="dl" x="820.9" y="325.6">11,1</text>
<text class="dl" x="855.4" y="298.5">13,2</text>
<text class="dl" x="890.0" y="339.8">10,0</text>
<text class="dl" x="924.6" y="326.9">11,0</text>
<text class="dl" x="959.2" y="337.3">10,2</text>
<text class="dl" x="993.9" y="305.0">12,7</text>
<text class="dl" x="1028.4" y="332.1">10,6</text>
<text class="dl" x="1063.0" y="295.9">13,4</text>
<text class="dl" x="1097.6" y="271.4">15,3</text>
<text class="dl" x="59.6" y="288.2">14,0</text>
<text class="dl" x="94.2" y="320.5">11,5</text>
<text class="dl" x="128.8" y="285.6">14,2</text>
<text class="dl" x="163.5" y="297.2">13,3</text>
<text class="dl" x="198.1" y="337.3">10,2</text>
<text class="dl" x="232.7" y="316.6">11,8</text>
<text class="dl" x="267.3" y="316.6">11,8</text>
<text class="dl" x="301.9" y="262.3">16,0</text>
<text class="dl" x="336.5" y="97.0">28,8</text>
<text class="dl" x="371.1" y="135.7">25,8</text>
<text class="dl" x="405.7" y="259.7">16,2</text>
<text class="dl" x="440.3" y="253.3">16,7</text>
<text class="dl" x="474.9" y="233.9">18,2</text>
<text class="dl" x="509.5" y="249.4">17,0</text>
<text class="dl" x="544.0" y="261.0">16,1</text>
<text class="dl" x="578.6" y="245.5">17,3</text>
<text class="dl" x="613.2" y="262.3">16,0</text>
<text class="dl" x="647.9" y="271.4">15,3</text>
<text class="dl" x="682.4" y="261.0">16,1</text>
<text class="dl" x="717.0" y="236.5">18,0</text>
<text class="dl" x="751.6" y="227.4">18,7</text>
<text class="dl" x="786.2" y="302.4">12,9</text>
<text class="dl" x="820.9" y="261.0">16,1</text>
<text class="dl" x="855.4" y="195.1">21,2</text>
<text class="dl" x="890.0" y="295.9">13,4</text>
<text class="dl" x="924.6" y="250.7">16,9</text>
<text class="dl" x="959.2" y="312.7">12,1</text>
<text class="dl" x="993.9" y="226.2">18,8</text>
<text class="dl" x="1028.4" y="268.8">15,5</text>
<text class="dl" x="1063.0" y="195.1">21,2</text>
<text class="dl" x="1097.6" y="180.9">22,3</text>
<text class="dl" x="59.6" y="416.1">4,1</text>
<text class="dl" x="94.2" y="416.1">4,1</text>
<text class="dl" x="128.8" y="441.9">2,1</text>
<text class="dl" x="163.5" y="374.7">7,3</text>
<text class="dl" x="198.1" y="441.9">2,1</text>
<text class="dl" x="232.7" y="453.5">1,2</text>
<text class="dl" x="267.3" y="435.5">2,6</text>
<text class="dl" x="301.9" y="472.9">-0,3</text>
<text class="dl" x="336.5" y="391.5">6,0</text>
<text class="dl" x="371.1" y="286.9">14,1</text>
<text class="dl" x="405.7" y="305.0">12,7</text>
<text class="dl" x="440.3" y="324.3">11,2</text>
<text class="dl" x="474.9" y="336.0">10,3</text>
<text class="dl" x="509.5" y="364.4">8,1</text>
<text class="dl" x="544.0" y="399.3">5,4</text>
<text class="dl" x="578.6" y="382.5">6,7</text>
<text class="dl" x="613.2" y="401.9">5,2</text>
<text class="dl" x="647.9" y="379.9">6,9</text>
<text class="dl" x="682.4" y="401.9">5,2</text>
<text class="dl" x="717.0" y="369.6">7,7</text>
<text class="dl" x="751.6" y="339.8">10,0</text>
<text class="dl" x="786.2" y="360.5">8,4</text>
<text class="dl" x="820.9" y="400.6">5,3</text>
<text class="dl" x="855.4" y="410.9">4,5</text>
<text class="dl" x="890.0" y="360.5">8,4</text>
<text class="dl" x="924.6" y="357.9">8,6</text>
<text class="dl" x="959.2" y="360.5">8,4</text>
<text class="dl" x="993.9" y="361.8">8,3</text>
<text class="dl" x="1028.4" y="396.7">5,6</text>
<text class="dl" x="1063.0" y="420.0">3,8</text>
<text class="dl" x="1097.6" y="378.6">7,0</text>
<text y="27.5" font-size="16.8" font-weight="bold" fill="#404040" xml:space="preserve"><tspan x="365.7" textLength="153.1" lengthAdjust="spacingAndGlyphs">Temperaturverlauf </tspan><tspan x="516.6" textLength="106.2" lengthAdjust="spacingAndGlyphs">DWD-Station </tspan><tspan x="622.8" textLength="58.4" lengthAdjust="spacingAndGlyphs">Bevern </tspan><tspan x="681.2" textLength="34.4" lengthAdjust="spacingAndGlyphs">Mai </tspan><tspan x="715.6" textLength="39.9" lengthAdjust="spacingAndGlyphs">2021</tspan></text>
<text y="42.8" font-size="13.2" font-weight="bold" fill="#404040" xml:space="preserve"><tspan x="76.4" textLength="122.7" lengthAdjust="spacingAndGlyphs">Mitteltemperatur </tspan><tspan x="199.1" textLength="38.4" lengthAdjust="spacingAndGlyphs">11,53 </tspan><tspan x="237.5" textLength="14.3" lengthAdjust="spacingAndGlyphs">°C</tspan></text>
<line x1="284.5" y1="52.3" x2="309.5" y2="52.3" stroke="#767171" stroke-width="3" stroke-linecap="round"/>
<circle cx="297" cy="52.3" r="3.8" fill="#767171"/>
<text class="lg" y="55.9" xml:space="preserve"><tspan x="313.6" textLength="140.8" lengthAdjust="spacingAndGlyphs">Tagesmitteltemperatur </tspan><tspan x="454.4" textLength="21.9" lengthAdjust="spacingAndGlyphs">(°C)</tspan></text>
<line x1="498.8" y1="52.3" x2="523.8" y2="52.3" stroke="#ED7D31" stroke-width="3" stroke-linecap="round"/>
<circle cx="511.3" cy="52.3" r="3.8" fill="#ED7D31"/>
<text class="lg" y="55.9" xml:space="preserve"><tspan x="527" textLength="133.1" lengthAdjust="spacingAndGlyphs">Maximumtemperatur </tspan><tspan x="660.1" textLength="21.8" lengthAdjust="spacingAndGlyphs">(°C)</tspan></text>
<line x1="703.5" y1="52.3" x2="728.5" y2="52.3" stroke="#0066FF" stroke-width="3" stroke-linecap="round"/>
<circle cx="716" cy="52.3" r="3.8" fill="#0066FF"/>
<text class="lg" y="55.9" xml:space="preserve"><tspan x="731.8" textLength="130.2" lengthAdjust="spacingAndGlyphs">Minimumtemperatur </tspan><tspan x="862" textLength="22.4" lengthAdjust="spacingAndGlyphs">(°C)</tspan></text>
</svg></body></html>
